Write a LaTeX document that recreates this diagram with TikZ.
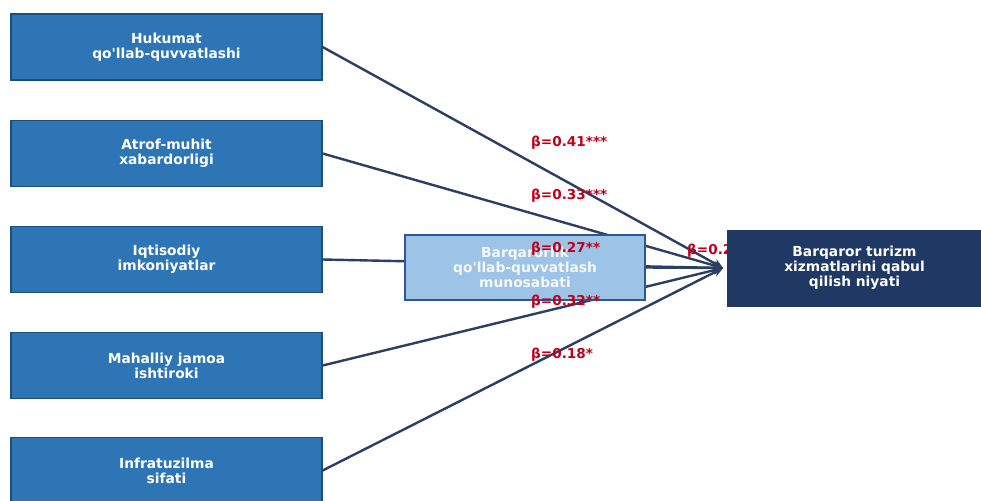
\documentclass[tikz,border=0pt]{standalone}
\usepackage{fontspec}
\newfontfamily\dv{DejaVu Sans}[Ligatures=TeXOff]
\usetikzlibrary{arrows.meta}
\pgfdeclarelayer{bg}
\pgfdeclarelayer{fg}
\pgfsetlayers{bg,main,fg}
\definecolor{srcfill}{HTML}{2E75B6}
\definecolor{srcborder}{HTML}{1F4E79}
\definecolor{medfill}{HTML}{9DC3E6}
\definecolor{medborder}{HTML}{2F5597}
\definecolor{tgtfill}{HTML}{1F3864}
\definecolor{connc}{HTML}{2B3E63}
\definecolor{labc}{HTML}{C0001A}
\begin{document}
\begin{tikzpicture}[x=1pt,y=-1pt,
  boxtext/.style={text=white, align=center, inner sep=0pt,
    font=\dv\bfseries\fontsize{13.8}{14.8}\selectfont},
  srcbox/.style={boxtext, draw=srcborder, fill=srcfill, line width=1.2pt,
    minimum width=311pt, minimum height=66pt},
  medbox/.style={boxtext, text=white!90!medfill, draw=medborder, fill=medfill, line width=1.2pt,
    minimum width=240pt, minimum height=65pt},
  tgtbox/.style={boxtext, draw=tgtfill, fill=tgtfill, line width=0.8pt,
    minimum width=254pt, minimum height=76pt},
  conn/.style={draw=connc, line width=2.4pt, -{Stealth[length=10pt,width=9pt]}},
  beta/.style={text=labc, anchor=west, inner sep=0pt,
    font=\dv\bfseries\fontsize{13.6}{14}\selectfont}]
\useasboundingbox (0,0) rectangle (981,500);
\begin{pgfonlayer}{bg}
\fill[white] (0,0) rectangle (981,500);
\end{pgfonlayer}
% source boxes
\node[srcbox] (s1) at (166.5,47) {Hukumat\\qo'llab-quvvatlashi};
\node[srcbox] (s2) at (166.5,153.5) {Atrof-muhit\\xabardorligi};
\node[srcbox] (s3) at (166.5,259.5) {Iqtisodiy\\imkoniyatlar};
\node[srcbox] (s4) at (166.5,365.5) {Mahalliy jamoa\\ishtiroki};
\node[srcbox] (s5) at (166.5,470.5) {Infratuzilma\\sifati};
% mediator
\node[medbox] (med) at (525,267.5) {Barqarorlik\\qo'llab-quvvatlash\\munosabati};
% target
\begin{pgfonlayer}{fg}
\node[tgtbox] (tgt) at (854.5,268) {Barqaror turizm\\xizmatlarini qabul\\qilish niyati};
\end{pgfonlayer}
\coordinate (tip) at ([xshift=-4pt]tgt.west);
% connectors
\begin{pgfonlayer}{bg}
\draw[conn] (s1.east) -- (tip);
\draw[conn] (s2.east) -- (tip);
\draw[conn] (s3.east) -- (tip);
\draw[conn] (s4.east) -- (tip);
\draw[conn] (s5.east) -- (tip);
\end{pgfonlayer}
\draw[conn] (med.east) -- (tip);
% labels
\node[beta] (b1) at (531,143) {β=0.41***};
\node[beta] (b2) at (531,196) {β=0.33***};
\node[beta] (b3) at (531,249) {β=0.27**};
\node[beta] (b4) at (531,302) {β=0.32**};
\node[beta] (b5) at (531,355) {β=0.18*};
\node[beta] (b6) at (687,251) {β=0.25**};
\end{tikzpicture}
\end{document}
